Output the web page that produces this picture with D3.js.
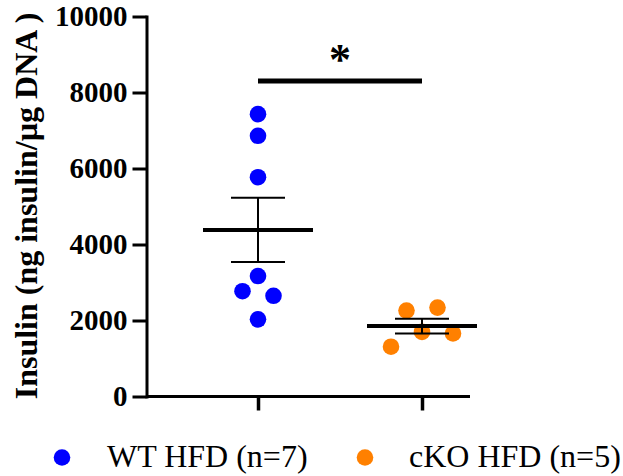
<!DOCTYPE html>
<html>
<head>
<meta charset="utf-8">
<script src="https://cdn.jsdelivr.net/npm/d3@7"></script>
<style>
  body { margin: 0; background: #fff; }
  svg { display: block; }
  text { font-family: "Liberation Serif", "Times New Roman", serif; }
</style>
</head>
<body>
<script>
// groups and individual values (ng insulin / ug DNA)
var groups = ["WT HFD", "cKO HFD"];
var legendLabels = ["WT HFD (n=7)", "cKO HFD (n=5)"];
var colors = ["#0000ff", "#ff8000"];
var wtValues = [7430, 6860, 5770, 3170, 2770, 2650, 2030];
var ckoValues = [2260, 2340, 1310, 1700, 1660];
var yTicks = [0, 2000, 4000, 6000, 8000, 10000];
var sigLevel = 8300;
var sigLabel = "*";

var width = 623, height = 476;

var svg = d3.select("body").append("svg")
    .attr("width", width)
    .attr("height", height);

// scales
var y = d3.scaleLinear().domain([0, 10000]).range([396.5, 16.5]);
var x = d3.scalePoint().domain(groups).range([258, 422]);

// y axis
var yAxis = svg.append("g")
    .attr("transform", "translate(146.5,0)")
    .call(d3.axisLeft(y).tickValues(yTicks).tickSize(14).tickSizeOuter(0)
      .tickPadding(5).tickFormat(d3.format("d")));
yAxis.select(".domain").attr("stroke-width", 3).attr("stroke-linecap", "square");
yAxis.selectAll(".tick line").attr("stroke-width", 3);
yAxis.selectAll(".tick text")
    .attr("font-family", "'Liberation Serif', 'Times New Roman', serif")
    .attr("font-weight", "bold")
    .attr("font-size", 29)
    .attr("fill", "#000");

// x axis (no labels, legend names the groups)
var xAxis = svg.append("g")
    .attr("transform", "translate(0,396.5)")
    .call(d3.axisBottom(x).tickSize(14).tickSizeOuter(0).tickFormat(""));
xAxis.select(".domain").attr("d", "M146.5,0H470").attr("stroke-width", 3);
xAxis.selectAll(".tick line").attr("stroke-width", 3.5);

// y label
svg.append("text")
    .attr("transform", "translate(37,206) rotate(-90)")
    .attr("text-anchor", "middle")
    .attr("font-weight", "bold")
    .attr("font-size", 32)
    .text("Insulin (ng insulin/µg DNA )");

// simple row-based swarm: rows are value bins, points in a row spread evenly
function swarm(values) {
  var binSize = 440, spacing = 31;
  var idx = d3.range(values.length).sort(function(a, b) { return values[a] - values[b]; });
  var rows = [], row = null, start = null;
  idx.forEach(function(i) {
    if (row === null || values[i] - start >= binSize) {
      row = []; rows.push(row); start = values[i];
    }
    row.push(i);
  });
  var offsets = [];
  rows.forEach(function(r) {
    r.sort(function(a, b) { return a - b; });
    r.forEach(function(i, k) { offsets[i] = (k - (r.length - 1) / 2) * spacing; });
  });
  return values.map(function(v, i) { return { value: v, dx: offsets[i] }; });
}

var allValues = [wtValues, ckoValues];

allValues.forEach(function(vals, gi) {
  var cx = x(groups[gi]);
  var pts = swarm(vals);

  svg.append("g").selectAll("circle")
      .data(pts)
    .enter().append("circle")
      .attr("cx", function(d) { return cx + d.dx; })
      .attr("cy", function(d) { return y(d.value); })
      .attr("r", 8.3)
      .attr("fill", colors[gi]);

  var mean = d3.mean(vals);
  var sem = d3.deviation(vals) / Math.sqrt(vals.length);

  // error bar
  svg.append("line")
      .attr("x1", cx).attr("x2", cx)
      .attr("y1", y(mean + sem)).attr("y2", y(mean - sem))
      .attr("stroke", "#000").attr("stroke-width", 2);
  [mean + sem, mean - sem].forEach(function(v) {
    svg.append("line")
        .attr("x1", cx - 27).attr("x2", cx + 27)
        .attr("y1", y(v)).attr("y2", y(v))
        .attr("stroke", "#000").attr("stroke-width", 2);
  });
  // mean
  svg.append("line")
      .attr("x1", cx - 55).attr("x2", cx + 55)
      .attr("y1", y(mean)).attr("y2", y(mean))
      .attr("stroke", "#000").attr("stroke-width", 4);
});

// significance bar
svg.append("line")
    .attr("x1", x(groups[0])).attr("x2", x(groups[1]))
    .attr("y1", y(sigLevel)).attr("y2", y(sigLevel))
    .attr("stroke", "#000").attr("stroke-width", 5);
svg.append("text")
    .attr("x", (x(groups[0]) + x(groups[1])) / 2)
    .attr("y", y(sigLevel) - 7)
    .attr("text-anchor", "middle")
    .attr("font-weight", "bold")
    .attr("font-size", 44)
    .text(sigLabel);

// legend
var legendX = [62, 365];
var legendTextX = [107, 409];
legendLabels.forEach(function(lab, i) {
  svg.append("circle")
      .attr("cx", legendX[i]).attr("cy", 457.5)
      .attr("r", 8.3)
      .attr("fill", colors[i]);
  svg.append("text")
      .attr("x", legendTextX[i]).attr("y", 467)
      .attr("font-size", 32)
      .attr("fill", "#000")
      .text(lab);
});
</script>
</body>
</html>
